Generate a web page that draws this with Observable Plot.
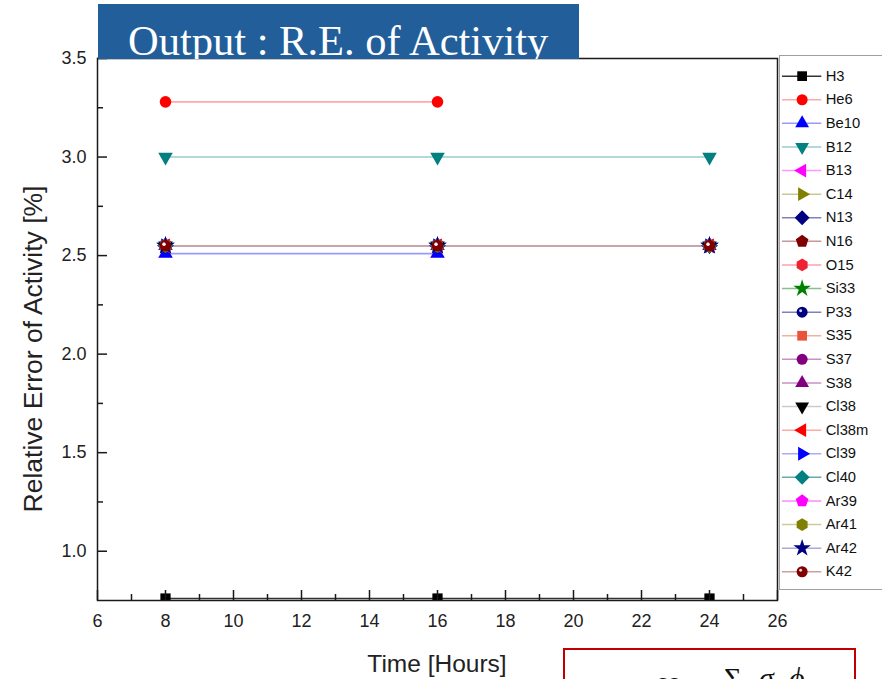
<!DOCTYPE html>
<html><head><meta charset="utf-8">
<script src="https://cdn.jsdelivr.net/npm/d3@7"></script>
<script src="https://cdn.jsdelivr.net/npm/@observablehq/plot@0.6"></script>
<style>
html,body{margin:0;padding:0;background:#fff;overflow:hidden}
#wrap{position:relative;width:882px;height:679px;overflow:hidden;font-family:"Liberation Sans",Arial,sans-serif}
#wrap > *{position:absolute;left:0;top:0}
#legend{left:779px;top:55px;width:120px;height:535px;border:1px solid #a0a0a0;background:#fff;box-sizing:border-box}
#legend svg{position:absolute;left:0;top:0}
</style></head><body><div id="wrap"><div id="main"></div><div id="legend"></div><svg id="over" width="882" height="679"></svg></div>
<script>
// ---- data ----
const times = [8, 16, 24];
const nuclides = ["H3","He6","Be10","B12","B13","C14","N13","N16","O15","Si33","P33","S35","S37","S38","Cl38","Cl38m","Cl39","Cl40","Ar39","Ar41","Ar42","K42"];
const reAt8  = [0.76, 3.28, 2.51, 3.00, 2.55, 2.55, 2.55, 2.55, 2.55, 2.55, 2.55, 2.55, 2.55, 2.55, 2.55, 2.55, 2.55, 2.55, 2.55, 2.55, 2.55, 2.55];
const reAt16 = [0.76, 3.28, 2.51, 3.00, 2.55, 2.55, 2.55, 2.55, 2.55, 2.55, 2.55, 2.55, 2.55, 2.55, 2.55, 2.55, 2.55, 2.55, 2.55, 2.55, 2.55, 2.55];
const reAt24 = [0.76, null, null, 3.00, 2.55, 2.55, 2.55, 2.55, 2.55, 2.55, 2.55, 2.55, 2.55, 2.55, 2.55, 2.55, 2.55, 2.55, 2.55, 2.55, 2.55, 2.55];
const xTicks = [6, 8, 10, 12, 14, 16, 18, 20, 22, 24, 26];
const xMinorTicks = [7, 9, 11, 13, 15, 17, 19, 21, 23, 25];
const yTicks = [1.0, 1.5, 2.0, 2.5, 3.0, 3.5];
const yMinorTicks = [1.25, 1.75, 2.25, 2.75, 3.25];
const xDomain = [6, 26];
const yDomain = [0.75, 3.5];

// ---- styles ----
const markerColors = ["#000000","#ff0000","#0000ff","#008080","#ff00ff","#808000","#000080","#800000","#ee2233","#008000","#000080","#e8553a","#800080","#800080","#000000","#ff0000","#0000ff","#008080","#ff00ff","#808000","#000080","#800000"];
const lineColors   = ["#333333","#ffaaaa","#9999ff","#99cccc","#ff99ff","#c8c890","#8080c0","#c89898","#ffa0a8","#88c088","#8080c0","#f5b0a0","#c890c8","#c890c8","#cccccc","#ffaaaa","#aaaaff","#66aaaa","#ff88ff","#cccc99","#aaaadd","#d0a0a0"];
const markerShapes = ["square","circle","triUp","triDown","triLeft","triRight","diamond","pentagon","hexagon","star","ball","square","circle","triUp","triDown","triLeft","triRight","diamond","pentagon","hexagon","star","ball"];

function poly(n, rot, k) {
  return {draw(ctx, size) {
    const R = Math.sqrt(size / Math.PI) * k;
    for (let i = 0; i < n; i++) {
      const a = rot + i * 2 * Math.PI / n;
      const x = R * Math.sin(a), y = -R * Math.cos(a);
      if (i) ctx.lineTo(x, y); else ctx.moveTo(x, y);
    }
    ctx.closePath();
  }};
}
const symbolMap = {
  square: poly(4, Math.PI / 4, 1.25),
  circle: d3.symbolCircle,
  ball: d3.symbolCircle,
  triUp: poly(3, 0, 1.45),
  triDown: poly(3, Math.PI, 1.45),
  triLeft: poly(3, -Math.PI / 2, 1.45),
  triRight: poly(3, Math.PI / 2, 1.45),
  diamond: poly(4, 0, 1.35),
  pentagon: poly(5, 0, 1.2),
  hexagon: poly(6, 0, 1.15),
  star: d3.symbolStar
};

const rows = [];
nuclides.forEach((n, i) => {
  [reAt8, reAt16, reAt24].forEach((arr, j) => {
    if (arr[i] != null) rows.push({nuclide: n, idx: i, time: times[j], re: arr[i]});
  });
});

const W = 882, H = 679, mL = 97, mR = 105, mT = 58, mB = 79;
const innerW = W - mL - mR, innerH = H - mT - mB;
const axisColor = "#1a1a1a";
const tickFont = "'Liberation Sans', Arial, sans-serif";

const seriesRows = nuclides.map((n, i) => rows.filter(d => d.idx === i));

const chart = Plot.plot({
  width: W, height: H,
  marginLeft: mL, marginRight: mR, marginTop: mT, marginBottom: mB,
  style: {fontFamily: tickFont, background: "transparent"},
  x: {domain: xDomain},
  y: {domain: yDomain},
  marks: [
    ...seriesRows.map((s, i) => Plot.line(s, {x: "time", y: "re", stroke: lineColors[i], strokeWidth: 1.6, clip: true})),
    ...seriesRows.map((s, i) => Plot.dot(s, {x: "time", y: "re", symbol: symbolMap[markerShapes[i]], r: 5.8, fill: markerColors[i], stroke: "none", clip: true})),
    ...seriesRows.map((s, i) => markerShapes[i] === "ball" ? Plot.dot(s, {x: "time", y: "re", r: 1.6, dx: -1.5, dy: -1.6, fill: "#ffffff", fillOpacity: 0.85, stroke: "none", clip: true}) : null).filter(Boolean),
    Plot.frame({stroke: axisColor, strokeWidth: 1.5}),
    Plot.tickX(xTicks, {x: d => d, insetTop: innerH - 10, stroke: axisColor, strokeWidth: 1.5}),
    Plot.tickX(xMinorTicks, {x: d => d, insetTop: innerH - 6, stroke: axisColor, strokeWidth: 1.5}),
    Plot.tickY(yTicks, {y: d => d, insetRight: innerW - 10, stroke: axisColor, strokeWidth: 1.5}),
    Plot.tickY(yMinorTicks, {y: d => d, insetRight: innerW - 6, stroke: axisColor, strokeWidth: 1.5}),
    Plot.axisX(xTicks, {tickSize: 0, tickPadding: 14, fontSize: 18, fill: "#222", label: null}),
    Plot.axisY(yTicks, {tickSize: 0, tickPadding: 11, fontSize: 18, fill: "#222", label: null, tickFormat: d3.format(".1f")})
  ]
});
document.getElementById("main").appendChild(chart);

// ---- legend ----
const legend = Plot.plot({
  width: 120, height: 533, margin: 0,
  style: {fontFamily: tickFont, background: "transparent"},
  x: {domain: [0, 1], range: [2, 42], axis: null},
  y: {domain: nuclides, type: "point", padding: 0, range: [19, 524], axis: null},
  marks: [
    ...nuclides.map((n, i) => Plot.ruleY([n], {y: d => d, x1: 0, x2: 1, stroke: lineColors[i], strokeWidth: 1.5})),
    ...nuclides.map((n, i) => Plot.dot([n], {x: 0.5, y: d => d, symbol: symbolMap[markerShapes[i]], r: 5.6, fill: markerColors[i], stroke: "none"})),
    ...nuclides.map((n, i) => markerShapes[i] === "ball" ? Plot.dot([n], {x: 0.5, y: d => d, r: 1.5, dx: -1.5, dy: -1.5, fill: "#fff", fillOpacity: 0.85}) : null).filter(Boolean),
    Plot.text(nuclides, {x: 1, y: d => d, text: d => d, dx: 4, textAnchor: "start", fontSize: 15, fill: "#111"})
  ]
});
document.getElementById("legend").appendChild(legend);

// ---- overlay: title box, axis labels, formula box ----
const over = d3.select("#over");
over.append("defs").append("clipPath").attr("id", "tclip")
  .append("rect").attr("x", 98).attr("y", 4).attr("width", 481).attr("height", 55);
over.append("rect").attr("x", 98).attr("y", 4).attr("width", 481).attr("height", 55).attr("fill", "#225e9a");
over.append("text").attr("clip-path", "url(#tclip)")
  .attr("x", 128).attr("y", 55).attr("fill", "#fff")
  .attr("font-family", "'Liberation Serif','Times New Roman',serif").attr("font-size", 42.5)
  .text("Output : R.E. of Activity");

over.append("text").attr("x", 437).attr("y", 672).attr("text-anchor", "middle")
  .attr("font-family", tickFont).attr("font-size", 24.5).attr("fill", "#222").text("Time [Hours]");
over.append("text").attr("transform", "translate(42,349) rotate(-90)").attr("text-anchor", "middle")
  .attr("font-family", tickFont).attr("font-size", 26.5).attr("fill", "#222").text("Relative Error of Activity [%]");

over.append("rect").attr("x", 564).attr("y", 649).attr("width", 291).attr("height", 60)
  .attr("fill", "#fff").attr("stroke", "#c00000").attr("stroke-width", 2);
const ff = "'Liberation Serif','Times New Roman',serif";
over.append("text").attr("x", 655).attr("y", 690).attr("font-family", ff).attr("font-style", "italic").attr("font-size", 26).attr("fill", "#111").text("cc");
over.append("text").attr("x", 724).attr("y", 688).attr("font-family", ff).attr("font-size", 30).attr("fill", "#111").text("Σ");
over.append("text").attr("x", 759).attr("y", 688).attr("font-family", ff).attr("font-style", "italic").attr("font-size", 30).attr("fill", "#111").text("σ");
over.append("text").attr("x", 789).attr("y", 688).attr("font-family", ff).attr("font-style", "italic").attr("font-size", 30).attr("fill", "#111").text("ϕ");
</script></body></html>
